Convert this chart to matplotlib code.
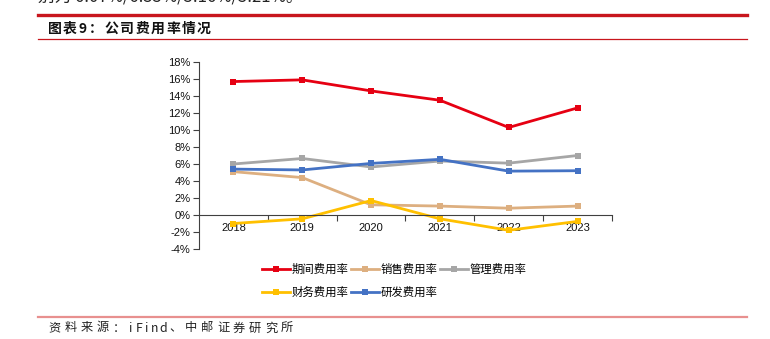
import matplotlib
matplotlib.use("Agg")
import matplotlib.pyplot as plt
from matplotlib.ticker import FixedLocator, FuncFormatter
from matplotlib.lines import Line2D

plt.rcParams['font.family'] = ['Liberation Sans', 'Noto Sans CJK SC', 'DejaVu Sans']

# data (%)
years = ['2018', '2019', '2020', '2021', '2022', '2023']
period_rate = [15.7, 15.9, 14.6, 13.5, 10.3, 12.6]
sales_rate = [5.1, 4.4, 1.2, 1.05, 0.8, 1.05]
admin_rate = [6.0, 6.65, 5.65, 6.35, 6.1, 7.0]
finance_rate = [-1.0, -0.45, 1.7, -0.45, -1.8, -0.75]
rnd_rate = [5.4, 5.3, 6.07, 6.55, 5.16, 5.21]

series = [
    ('期间费用率', period_rate, '#E60012'),
    ('销售费用率', sales_rate, '#DDAF80'),
    ('管理费用率', admin_rate, '#A6A6A6'),
    ('财务费用率', finance_rate, '#FFC000'),
    ('研发费用率', rnd_rate, '#4472C4'),
]

W, H = 770, 339
fig = plt.figure(figsize=(W / 100, H / 100), dpi=100)


def px(x, y):
    return x / W, 1 - y / H


def spaced_text(x, y, s, full=16.0, half=8.0, **kw):
    # one glyph per cell, like the monospaced report font
    for ch in s:
        adv = half if ord(ch) < 0x2000 else full
        fig.text(*px(x + adv / 2, y), ch, ha='center', **kw)
        x += adv


# header / footer decoration
fig.text(*px(38, 5), '别为 6.07%/6.55%/5.16%/5.21%。', ha='left', va='bottom',
         fontsize=12, family=['Noto Sans CJK SC'], color='#222222')
fig.add_artist(Line2D([38 / W, 747 / W], [1 - 14.5 / H] * 2, color='#C8161D', lw=2.4))
fig.add_artist(Line2D([38 / W, 747 / W], [1 - 39 / H] * 2, color='#C8161D', lw=0.9))
spaced_text(47, 29, '图表9：公司费用率情况', full=15.4, half=10.5,
            va='center', fontsize=10, fontweight='bold', family=['Noto Sans CJK SC'], color='#111111')
fig.add_artist(Line2D([38 / W, 747 / W], [1 - 316.5 / H] * 2, color='#E8908F', lw=1.6))
spaced_text(47, 328, '资料来源：iFind、中邮证券研究所', full=16.0, half=8.0,
            va='center', fontsize=8.8, family=['Noto Sans CJK SC'], color='#222222')

# chart
ax = fig.add_axes([199 / W, 1 - 249 / H, 413 / W, 187 / H])
x = range(len(years))
handles = {}
for name, vals, color in series:
    h, = ax.plot(x, vals, color=color, lw=2.0, marker='s', markersize=5,
                 markeredgewidth=0, solid_joinstyle='round', label=name)
    handles[name] = h

ax.set_xlim(-0.5, len(years) - 0.5)
ax.set_ylim(-4, 18)
ax.yaxis.set_major_locator(FixedLocator(range(-4, 19, 2)))
ax.yaxis.set_major_formatter(FuncFormatter(lambda v, p: '%d%%' % v))
ax.set_xticks(list(x))
ax.set_xticklabels(years)
ax.set_xticks([i + 0.5 for i in x], minor=True)

for s in ['top', 'right']:
    ax.spines[s].set_visible(False)
ax.spines['bottom'].set_position(('data', 0))
ax.spines['bottom'].set_color('#404040')
ax.spines['left'].set_color('#404040')
ax.spines['bottom'].set_linewidth(0.8)
ax.spines['left'].set_linewidth(0.8)
ax.tick_params(axis='x', which='major', length=0, pad=6, labelsize=8, colors='#111111')
ax.tick_params(axis='x', which='minor', length=4, width=0.8, direction='out', color='#404040')
ax.tick_params(axis='y', length=4, width=0.8, direction='out', pad=2, labelsize=8,
               colors='#111111')
ax.tick_params(axis='y', color='#404040')

order = ['期间费用率', '财务费用率', '销售费用率', '研发费用率', '管理费用率']
fig.legend([handles[n] for n in order], order, loc='upper left',
           bbox_to_anchor=px(262, 264), ncol=3, frameon=False, fontsize=8.2,
           handlelength=2.5, handletextpad=0.1, columnspacing=0.2,
           labelspacing=1.0, borderpad=0, borderaxespad=0)

fig.savefig('out.png', dpi=100)
